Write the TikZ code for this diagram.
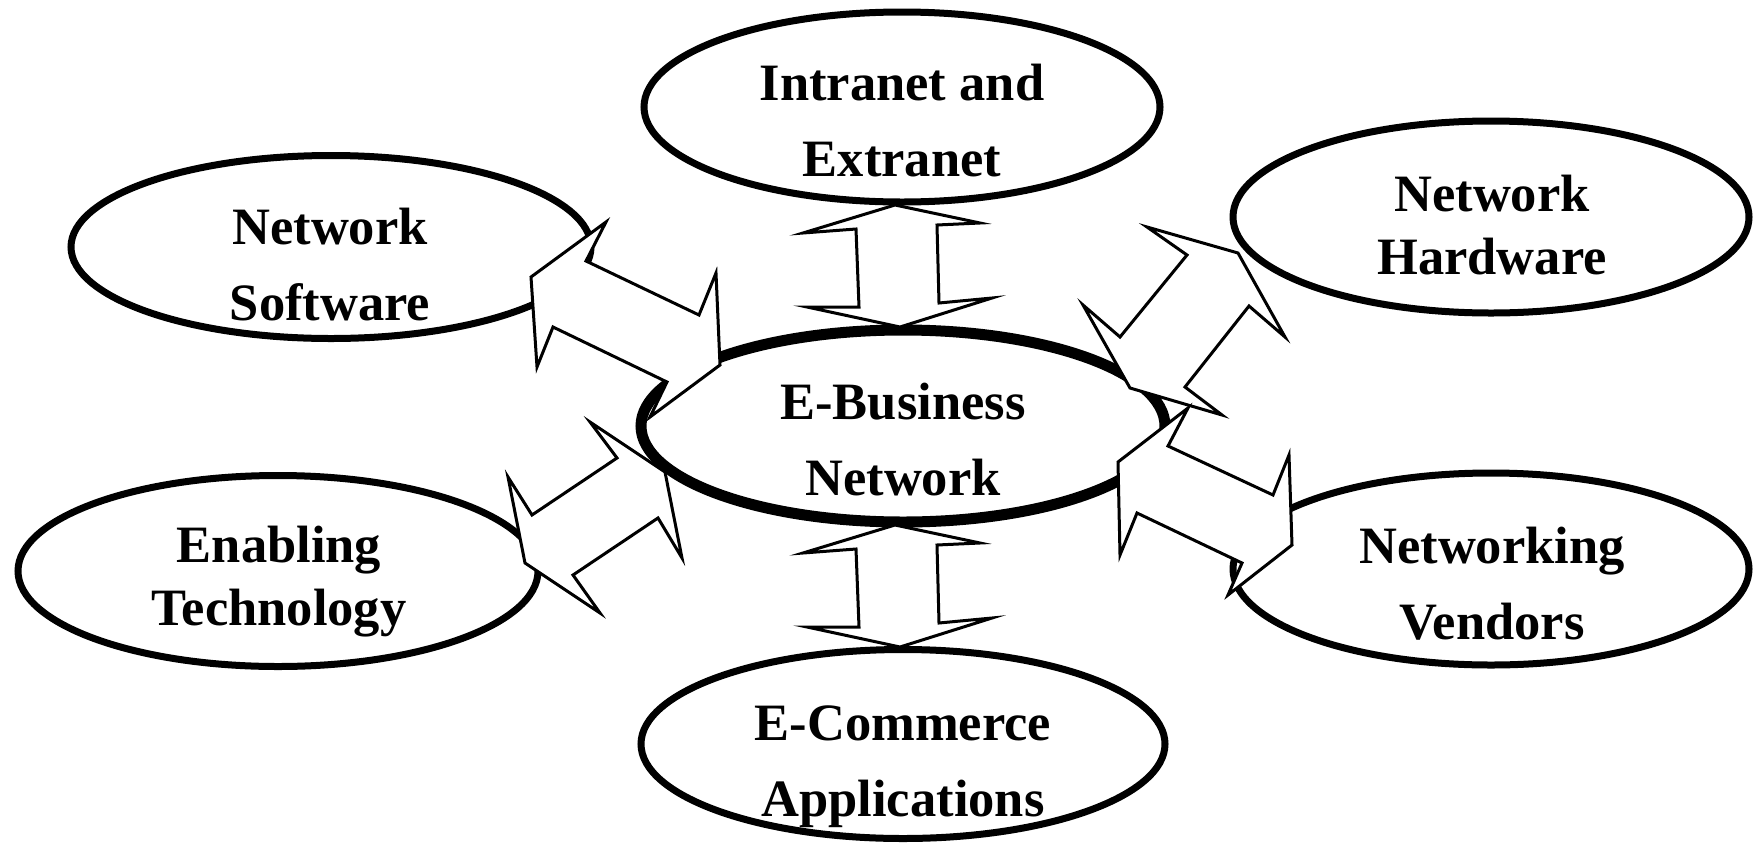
\documentclass[tikz,border=0pt]{standalone}
\usepackage{fontspec}
\setmainfont{Liberation Serif}
\usetikzlibrary{shapes.geometric}
\newcommand{\ls}{\rule[-12pt]{0pt}{49pt}}
\begin{document}
\begin{tikzpicture}[x=1pt,y=-1pt,
  oval/.style={draw,ellipse,line width=7pt,inner sep=0pt,fill=white},
  lbl/.style={align=center,font=\bfseries\fontsize{52.5}{76}\selectfont,inner sep=0pt},
  lbltight/.style={align=center,font=\bfseries\fontsize{52.5}{63}\selectfont,inner sep=0pt},
  barrow/.style={draw,fill=white,line width=3pt,line join=miter}]
\useasboundingbox (0,0) rectangle (1754,844);
% ellipses
\node[oval,minimum width=516pt,minimum height=190pt] (intr) at (902,107) {};
\node[oval,minimum width=520pt,minimum height=183pt] (soft) at (331,247) {};
\node[oval,minimum width=516pt,minimum height=192pt] (hard) at (1491,217) {};
\node[oval,line width=11pt,minimum width=524pt,minimum height=192pt] (ebus) at (903,426) {};
\node[oval,minimum width=520pt,minimum height=191pt] (enab) at (278,571) {};
\node[oval,minimum width=516pt,minimum height=192pt] (vend) at (1491,569) {};
\node[oval,minimum width=524pt,minimum height=189pt] (ecom) at (903,744) {};
% labels
\node[lbl] (intr-t) at (902,125.5) {\ls Intranet and\\\ls Extranet};
\node[lbl] (soft-t) at (330,269.5) {\ls Network\\\ls Software};
\node[lbltight] (hard-t) at (1492,230) {\ls Network\\\ls Hardware};
\node[lbl] (ebus-t) at (903,444.5) {\ls E-Business\\\ls Network};
\node[lbltight] (enab-t) at (279,581) {\ls Enabling\\\ls Technology};
\node[lbl] (vend-t) at (1492,588.5) {\ls Networking\\\ls Vendors};
\node[lbl] (ecom-t) at (903,766) {\ls E-Commerce\\\ls Applications};
% block arrows
\draw[barrow] (895,205) -- (980,223) -- (937,225) -- (939,303) -- (992,298) -- (900,327) -- (807,307) -- (859,307) -- (856,229) -- (803,233) -- cycle;
\draw[barrow] (895,525) -- (980,543) -- (937,545) -- (939,623) -- (992,618) -- (900,647) -- (807,627) -- (859,627) -- (856,549) -- (803,553) -- cycle;
\draw[barrow] (531,277) -- (606,222) -- (586,261) -- (699,315) -- (716,273) -- (720,365) -- (650,417) -- (667,382) -- (553,327) -- (537,367) -- cycle;
\draw[barrow] (1238,253) -- (1285,337) -- (1249,306) -- (1185,387) -- (1222,415) -- (1130,388) -- (1083,305) -- (1120,337) -- (1187,255) -- (1147,227) -- cycle;
\draw[barrow] (665,472) -- (682,558) -- (658,518) -- (573,575) -- (600,613) -- (525,563) -- (508,477) -- (532,515) -- (617,458) -- (590,422) -- cycle;
\draw[barrow] (1118,462) -- (1188,408) -- (1168,446) -- (1273,495) -- (1289,455) -- (1292,545) -- (1228,595) -- (1242,563) -- (1137,513) -- (1120,555) -- cycle;
\end{tikzpicture}
\end{document}
